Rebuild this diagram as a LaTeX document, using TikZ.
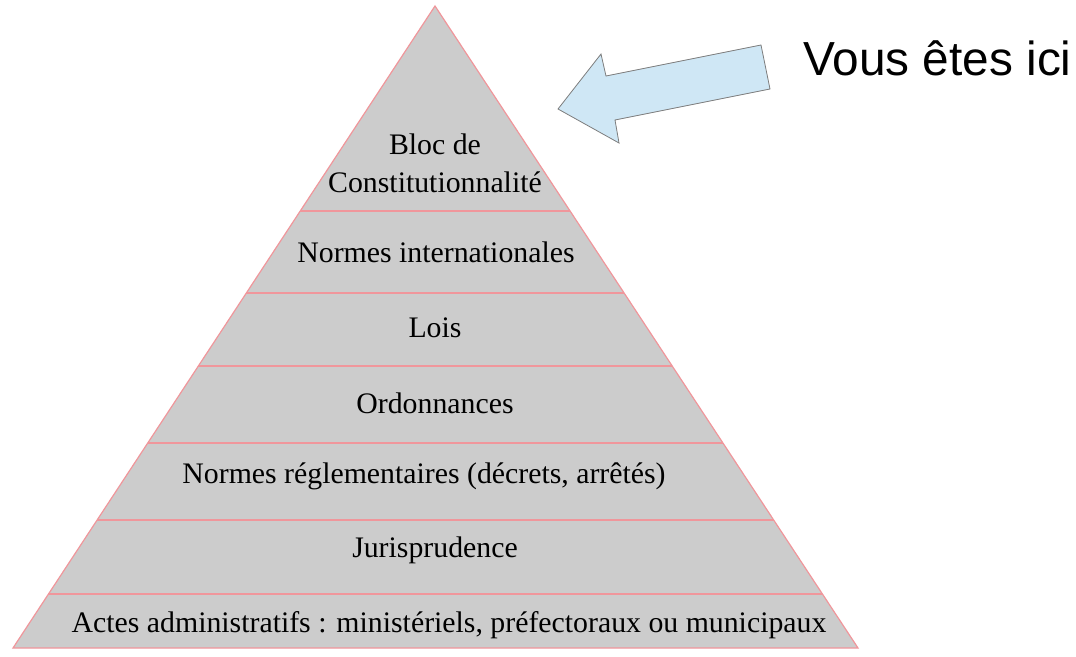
\documentclass[tikz,border=0pt]{standalone}
\usepackage{fontspec}
\setmainfont{Liberation Serif}
\newfontfamily\labelfont{Liberation Sans}
\usetikzlibrary{calc}
\definecolor{tierColor}{RGB}{204,204,204}
\definecolor{edgeColor}{RGB}{240,150,155}
\definecolor{arrowColor}{RGB}{207,231,245}
\definecolor{arrowEdge}{RGB}{125,125,125}

\begin{document}
\begin{tikzpicture}[x=1pt,y=-1pt]
    \tikzstyle{tier} = [font=\fontsize{29.8}{38}\selectfont,text=black,inner sep=0pt,align=center,anchor=base]
    \tikzstyle{divider} = [draw=edgeColor,line width=1.2pt]
    \tikzstyle{pointer} = [fill=arrowColor,draw=arrowEdge,line width=0.8pt,line join=miter]
    \tikzstyle{here} = [font=\labelfont\fontsize{47.8}{57}\selectfont,inner sep=0pt,anchor=base west]

    \useasboundingbox (0,0) rectangle (1076,656);

    % pyramid
    \coordinate (apex) at (435,6);
    \coordinate (bl) at (13,648);
    \coordinate (br) at (858,648);
    \filldraw[fill=tierColor,draw=edgeColor,line width=1.2pt] (apex) -- (br) -- (bl) -- cycle;

    \foreach \y in {211,293,366,443,520,594}
      \draw[divider] ($(apex)!{(\y-6)/642}!(bl)$) -- ($(apex)!{(\y-6)/642}!(br)$);

    \node[tier] (bloc) at (435,154) {Bloc de};
    \node[tier] (const) at (435,192) {Constitutionnalit\'e};
    \node[tier] (intl) at (436,262) {Normes internationales};
    \node[tier] (lois) at (435,337) {Lois};
    \node[tier] (ordo) at (435,413) {Ordonnances};
    \node[tier] (regl) at (424,483) {Normes r\'eglementaires (d\'ecrets, arr\^et\'es)};
    \node[tier] (juris) at (435,557) {Jurisprudence};
    \node[tier] (actes) at (449,632) {Actes administratifs : minist\'eriels, pr\'efectoraux ou municipaux};

    % arrow
    \filldraw[pointer] (558,109) -- (601,54) -- (606,76) -- (761,45) -- (770,89) -- (615,120) -- (619,143) -- cycle;
    \node[here] (ici) at (803,75) {Vous êtes ici};

\end{tikzpicture}
\end{document}
